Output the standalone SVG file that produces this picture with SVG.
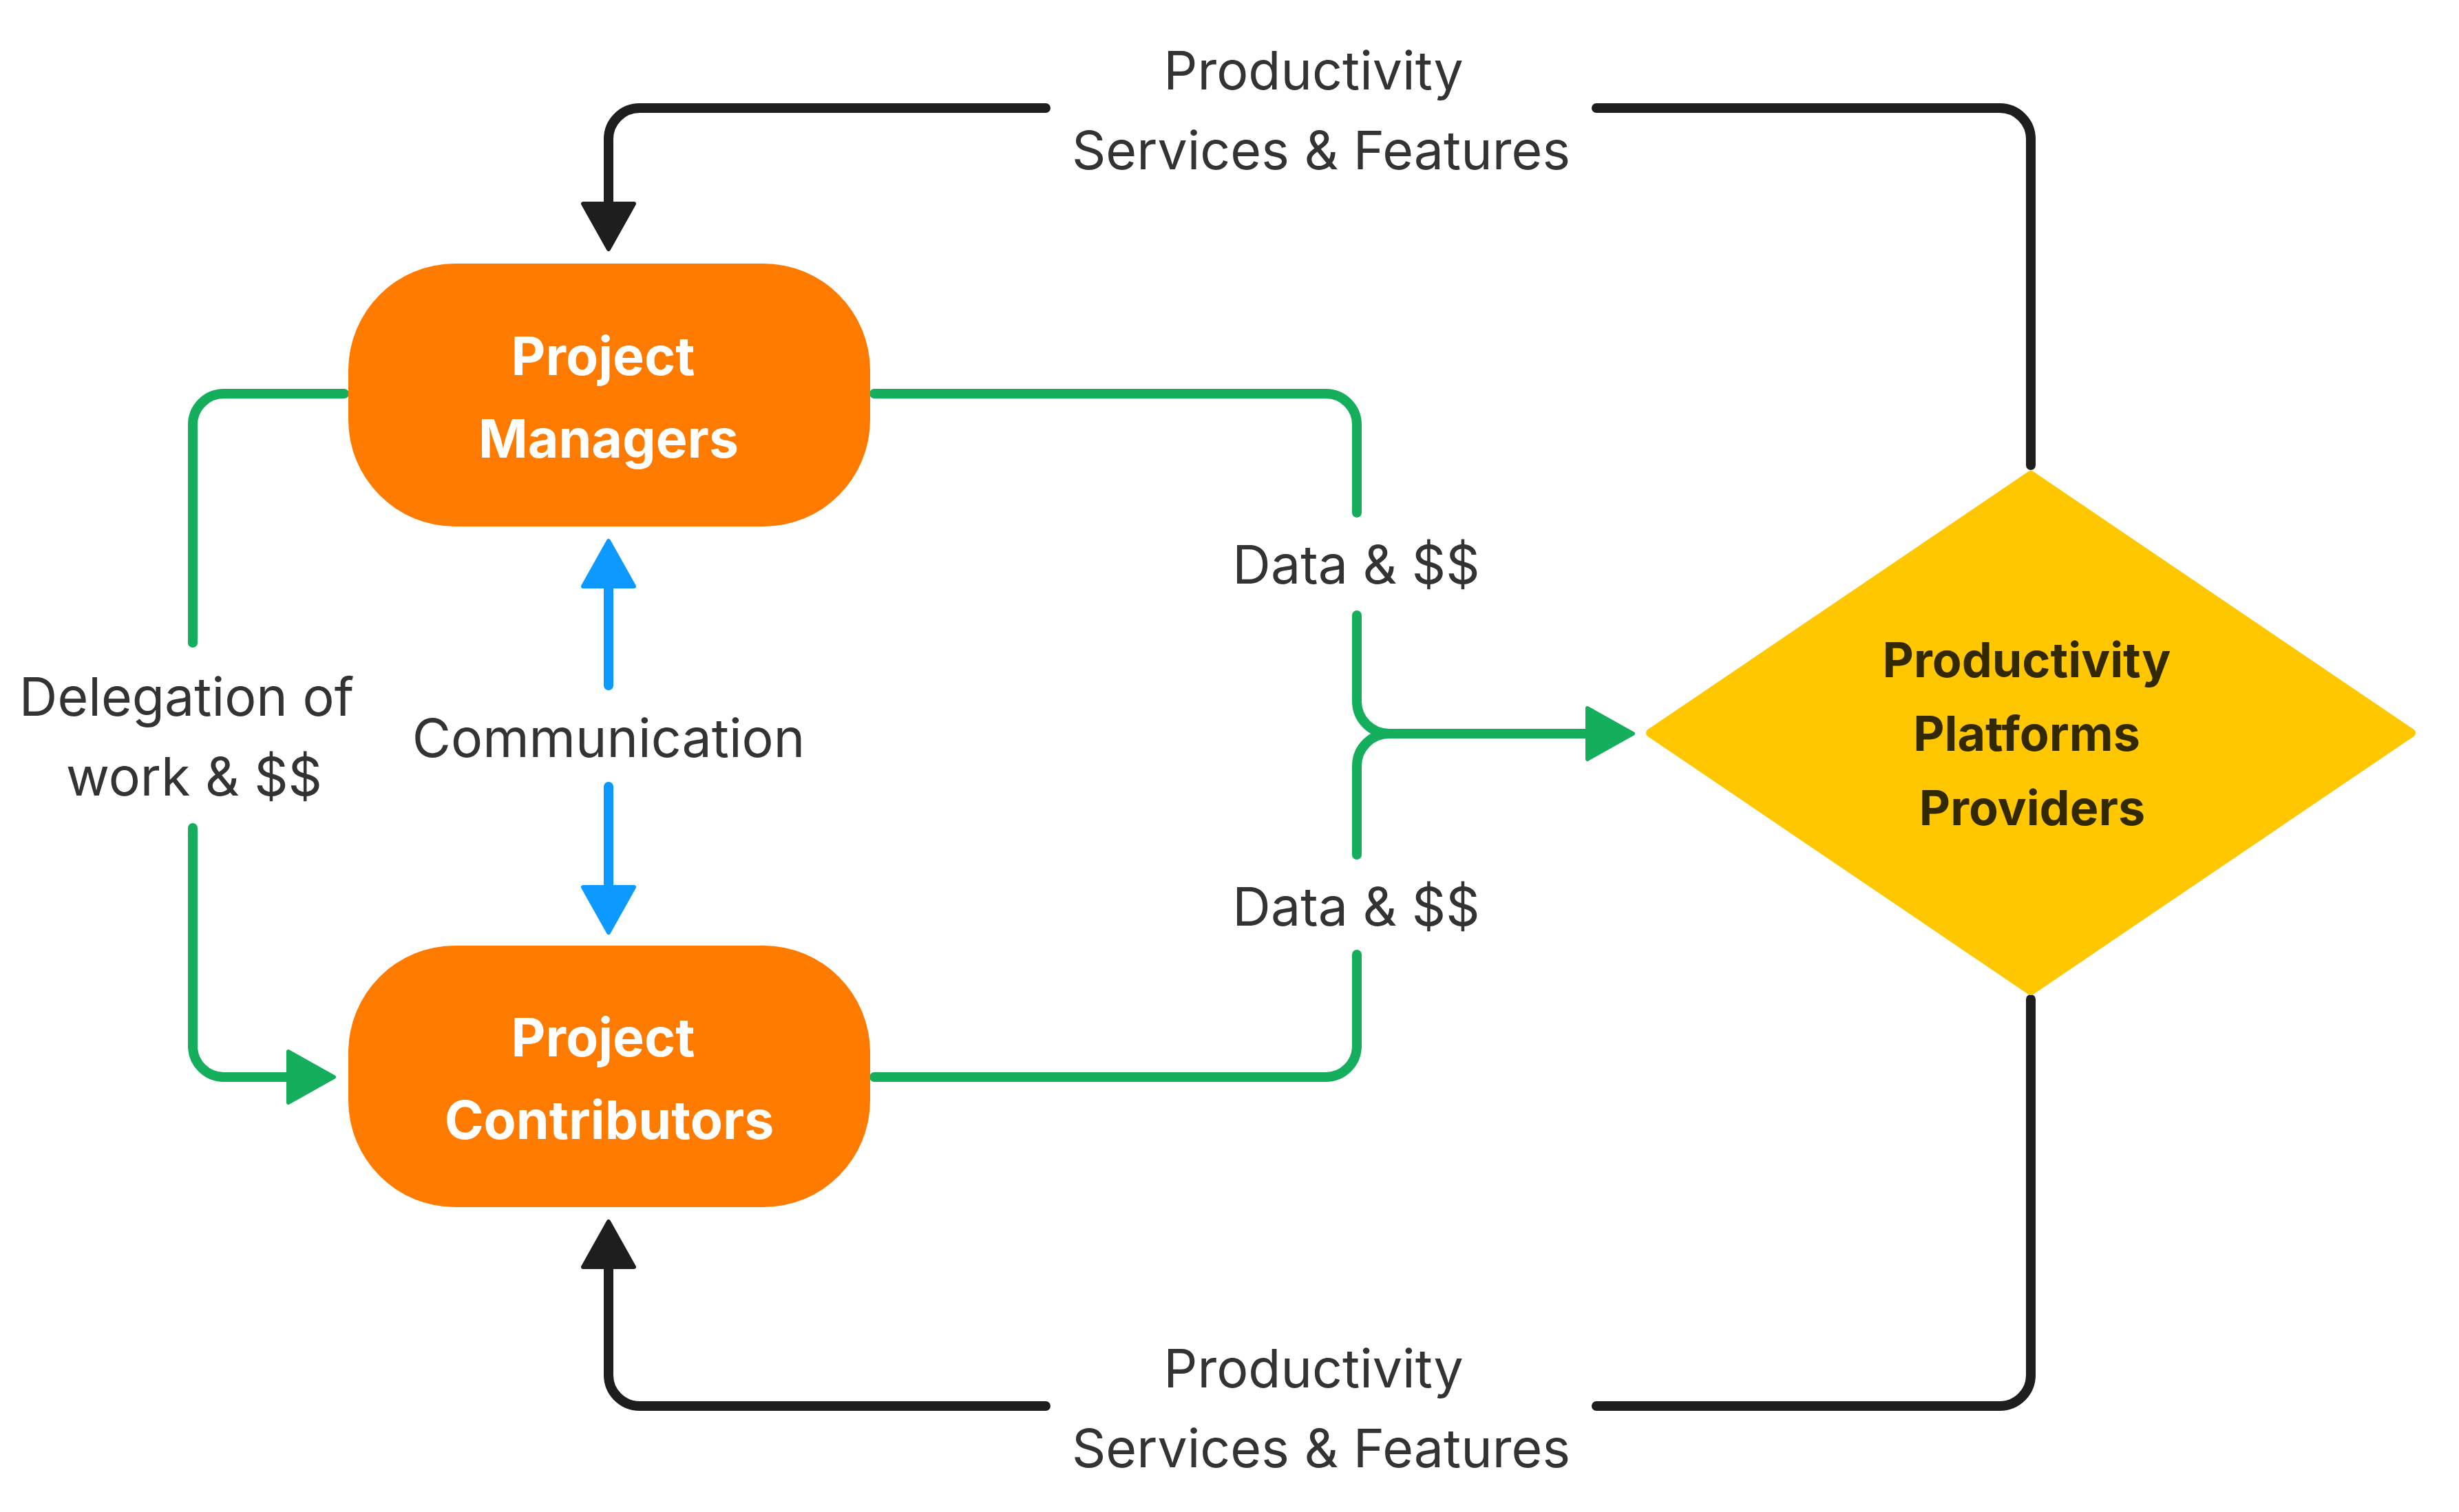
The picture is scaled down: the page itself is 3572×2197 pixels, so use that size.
<svg xmlns="http://www.w3.org/2000/svg" width="3572" height="2197" viewBox="0 0 3572 2197">
<style>
.lbl{font-family:Inter,"Liberation Sans",sans-serif;font-size:77px;fill:#333333;text-anchor:middle}
.nodeT{font-family:Inter,"Liberation Sans",sans-serif;font-size:77px;font-weight:700;fill:#ffffff;text-anchor:middle}
.dT{font-family:Inter,"Liberation Sans",sans-serif;font-size:70px;font-weight:700;fill:#332900;text-anchor:middle}
.c{fill:none;stroke-width:14;stroke-linecap:round;stroke-linejoin:round}
.k{stroke:#1e1e1e}.g{stroke:#14ae5c}.b{stroke:#0d99ff}
</style>
<defs>
<marker id="ak" markerUnits="userSpaceOnUse" viewBox="0 0 72 82" refX="0" refY="41" markerWidth="72" markerHeight="82" orient="auto" overflow="visible"><path d="M3,4 L69,41 L3,78 Z" fill="#1e1e1e" stroke="#1e1e1e" stroke-width="6" stroke-linejoin="round"/></marker>
<marker id="ag" markerUnits="userSpaceOnUse" viewBox="0 0 72 82" refX="0" refY="41" markerWidth="72" markerHeight="82" orient="auto" overflow="visible"><path d="M3,4 L69,41 L3,78 Z" fill="#14ae5c" stroke="#14ae5c" stroke-width="6" stroke-linejoin="round"/></marker>
<marker id="ab" markerUnits="userSpaceOnUse" viewBox="0 0 72 82" refX="0" refY="41" markerWidth="72" markerHeight="82" orient="auto" overflow="visible"><path d="M3,4 L69,41 L3,78 Z" fill="#0d99ff" stroke="#0d99ff" stroke-width="6" stroke-linejoin="round"/></marker>
</defs>
<rect width="3572" height="2197" fill="#ffffff"/>
<g id="connectors">
<path class="c k" d="M1519,157 H929 A45,45 0 0 0 884,202 V293" marker-end="url(#ak)"/>
<path class="c k" d="M2319,157 H2905 A45,45 0 0 1 2950,202 V676"/>
<path class="c k" d="M2319,2043 H2905 A45,45 0 0 0 2950,1998 V1452"/>
<path class="c k" d="M1519,2043 H929 A45,45 0 0 1 884,1998 V1844" marker-end="url(#ak)"/>
<path class="c g" d="M500,572 H325 A45,45 0 0 0 280,617 V934"/>
<path class="c g" d="M280,1203 V1520 A45,45 0 0 0 325,1565 H416" marker-end="url(#ag)"/>
<path class="c g" d="M1270,572 H1926 A45,45 0 0 1 1971,617 V745"/>
<path class="c g" d="M1971,894 V1019 A47,47 0 0 0 2018,1066 H2303" marker-end="url(#ag)"/>
<path class="c g" d="M1971,1242 V1113 A47,47 0 0 1 2018,1066"/>
<path class="c g" d="M1270,1565 H1926 A45,45 0 0 0 1971,1520 V1387"/>
<path class="c b" d="M884,996 V855" marker-end="url(#ab)"/>
<path class="c b" d="M884,1143 V1286" marker-end="url(#ab)"/>
<text class="lbl"><tspan x="1908" y="130">Productivity</tspan><tspan x="1919" y="246">Services &amp; Features</tspan></text>
<text class="lbl"><tspan x="1908" y="2016">Productivity</tspan><tspan x="1919" y="2132">Services &amp; Features</tspan></text>
<text class="lbl" x="1970" y="848">Data &amp; $$</text>
<text class="lbl" x="1970" y="1345">Data &amp; $$</text>
<text class="lbl" x="884" y="1100">Communication</text>
<text class="lbl"><tspan x="271" y="1040">Delegation of</tspan><tspan x="282" y="1156">work &amp; $$</tspan></text>
</g>
<g id="node-managers">
<rect x="506" y="383" width="758" height="382" rx="155" ry="155" fill="#ff7b00"/>
<text class="nodeT"><tspan x="876" y="545">Project</tspan><tspan x="884" y="665">Managers</tspan></text>
</g>
<g id="node-contributors">
<rect x="506" y="1374" width="758" height="380" rx="155" ry="155" fill="#ff7b00"/>
<text class="nodeT"><tspan x="876" y="1535">Project</tspan><tspan x="885" y="1655">Contributors</tspan></text>
</g>
<g id="node-providers">
<polygon points="2950,690 3503,1065 2950,1440 2397,1065" fill="#ffc700" stroke="#ffc700" stroke-width="12" stroke-linejoin="round"/>
<text class="dT"><tspan x="2944" y="984">Productivity</tspan><tspan x="2944" y="1091">Platforms</tspan><tspan x="2952" y="1199">Providers</tspan></text>
</g>
</svg>
